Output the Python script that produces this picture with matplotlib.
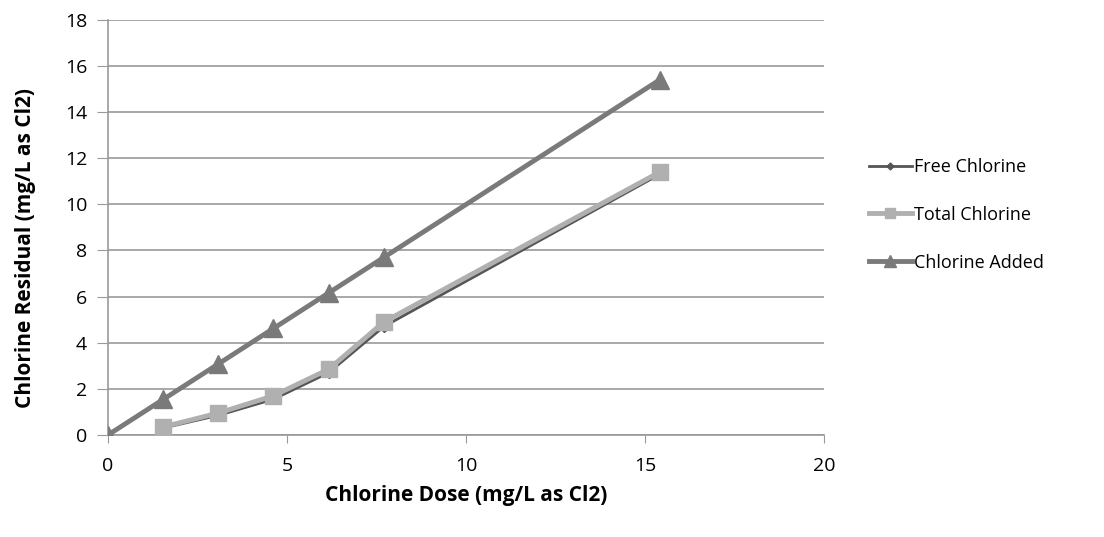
import numpy as np
import matplotlib.pyplot as plt

plt.rcParams['font.family'] = ['Open Sans', 'DejaVu Sans']

# chlorine dose (mg/L as Cl2)
dose = [0, 1.54, 3.08, 4.62, 6.16, 7.7, 15.4]
# residuals
free_dose = [1.54, 3.08, 4.62, 6.16, 7.7, 15.4]
free_cl = [0.3, 0.85, 1.55, 2.7, 4.7, 11.3]
total_cl = [0.35, 0.95, 1.7, 2.85, 4.9, 11.4]
added_cl = [0, 1.54, 3.08, 4.62, 6.16, 7.7, 15.4]

fig = plt.figure(figsize=(11.04, 5.37), dpi=100)
ax = fig.add_axes([0.0978, 0.19, 0.649, 0.773])

ax.plot(free_dose, free_cl, color='#555555', lw=2, marker='D', ms=5,
        label='Free Chlorine', zorder=2)
ax.plot(free_dose, total_cl, color='#b0b0b0', lw=3.5, marker='s', ms=11,
        label='Total Chlorine', zorder=3)
ax.plot(dose, added_cl, color='#7a7a7a', lw=3.5, marker='^', ms=13,
        label='Chlorine Added', zorder=3)

ax.set_xlim(0, 20)
ax.set_ylim(0, 18)
ax.set_xticks([0, 5, 10, 15, 20])
ax.set_yticks(np.arange(0, 19, 2))
ax.yaxis.grid(True, color='#999999', lw=1.2)
ax.set_axisbelow(True)
for s in ['top', 'right']:
    ax.spines[s].set_visible(False)
for s in ['left', 'bottom']:
    ax.spines[s].set_color('#999999')
    ax.spines[s].set_linewidth(1.2)
ax.tick_params(axis='both', colors='#999999', labelcolor='black', labelsize=14)
ax.tick_params(axis='x', length=6, pad=10)
ax.tick_params(axis='y', length=8, pad=7)

ax.set_xlabel('Chlorine Dose (mg/L as Cl2)', fontsize=15, fontweight='bold')
ax.xaxis.set_label_coords(0.5, -0.12)
ax.set_ylabel('Chlorine Residual (mg/L as Cl2)', fontsize=15, fontweight='bold')
ax.yaxis.set_label_coords(-0.10, 0.45)

leg = fig.legend(loc='center left', bbox_to_anchor=(0.772, 0.60), frameon=False,
                 fontsize=13, handlelength=2.4, labelspacing=1.65, handletextpad=0.1,
                 markerscale=0.7)

fig.savefig('out.png', dpi=100)
